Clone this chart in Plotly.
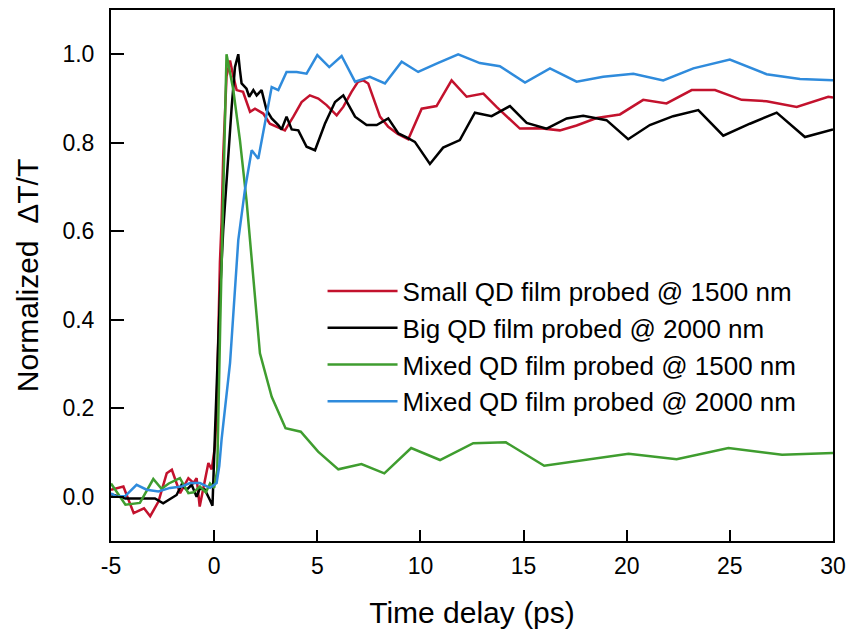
import plotly.graph_objects as go

# ---------------- data ----------------
series_names = [
    "Small QD film probed @ 1500 nm",
    "Big QD film probed @ 2000 nm",
    "Mixed QD film probed @ 1500 nm",
    "Mixed QD film probed @ 2000 nm",
]
series_colors = ["#c3122d", "#000000", "#3f9d2f", "#2f8bdc"]

small_t = [-5.0, -4.4, -3.9, -3.4, -3.1, -2.7, -2.3, -2.05, -1.65, -1.25, -1.0, -0.85, -0.7, -0.5,
           -0.28, -0.12, 0.04, 0.12, 0.2, 0.28, 0.36, 0.44, 0.6, 0.77, 0.93, 1.09, 1.4, 1.74, 1.98,
           2.38, 2.7, 3.19, 3.43, 3.84, 4.24, 4.64, 5.05, 5.45, 5.94, 6.26, 6.66, 6.98, 7.23, 7.47,
           7.71, 8.04, 8.44, 8.9, 9.41, 10.06, 10.78, 11.51, 12.24, 13.05, 13.69, 14.18, 14.82,
           15.79, 16.76, 17.57, 18.54, 19.67, 20.8, 21.93, 23.15, 24.28, 25.57, 26.78, 28.24,
           29.77, 30.0]
small_v = [0.016, 0.023, -0.037, -0.026, -0.044, -0.011, 0.053, 0.061, 0.008, 0.042, 0.031, 0.042,
           -0.022, 0.023, 0.076, 0.062, 0.114, 0.19, 0.38, 0.53, 0.62, 0.77, 0.95, 0.986, 0.95,
           0.919, 0.915, 0.87, 0.877, 0.866, 0.843, 0.832, 0.828, 0.859, 0.892, 0.907, 0.900,
           0.885, 0.862, 0.881, 0.915, 0.938, 0.941, 0.934, 0.904, 0.859, 0.836, 0.82, 0.808,
           0.877, 0.883, 0.941, 0.904, 0.911, 0.881, 0.859, 0.832, 0.833, 0.828, 0.839, 0.856,
           0.864, 0.897, 0.889, 0.919, 0.919, 0.897, 0.894, 0.881, 0.904, 0.902]

big_t = [-5.0, -4.3, -3.4, -2.87, -2.47, -2.06, -1.82, -1.58, -1.33, -1.09, -0.85, -0.69, -0.45,
         -0.2, -0.08, 0.04, 0.12, 0.28, 0.44, 0.52, 0.6, 0.85, 1.01, 1.17, 1.25, 1.33, 1.57, 1.7,
         1.9, 2.06, 2.3, 2.54, 2.79, 3.11, 3.27, 3.51, 3.76, 4.08, 4.48, 4.89, 5.37, 5.86, 6.26,
         6.83, 7.39, 7.88, 8.44, 8.93, 9.33, 9.73, 10.46, 11.1, 11.91, 12.64, 13.45, 14.34, 15.15,
         16.12, 17.09, 17.89, 19.02, 20.07, 21.12, 22.25, 23.47, 24.68, 25.97, 27.27, 28.64, 30.0]
big_v = [0.006, -0.004, -0.004, -0.004, -0.015, -0.004, 0.004, 0.027, 0.016, 0.027, 0.0, 0.019,
         0.016, -0.008, -0.02, 0.144, 0.264, 0.452, 0.603, 0.655, 0.73, 0.881, 0.971, 1.0, 0.964,
         0.934, 0.922, 0.904, 0.919, 0.907, 0.919, 0.874, 0.855, 0.84, 0.83, 0.859, 0.83, 0.828,
         0.791, 0.783, 0.843, 0.892, 0.907, 0.859, 0.84, 0.84, 0.855, 0.821, 0.812, 0.802, 0.752,
         0.789, 0.806, 0.868, 0.86, 0.883, 0.845, 0.832, 0.855, 0.861, 0.851, 0.808, 0.84, 0.86,
         0.874, 0.816, 0.843, 0.868, 0.813, 0.83]

mix1500_t = [-5.0, -4.3, -3.6, -2.95, -2.55, -2.2, -1.66, -1.25, -1.0, -0.69, -0.4, -0.2, 0.0,
             0.15, 0.3, 0.45, 0.6, 0.93, 1.25, 1.57, 1.74, 1.98, 2.22, 2.79, 3.46, 4.2, 5.04,
             6.02, 7.14, 8.25, 9.55, 10.95, 12.56, 14.14, 16.0, 20.09, 22.42, 24.93, 27.53, 30.0]
mix1500_v = [0.03, -0.018, -0.014, 0.04, 0.018, 0.03, 0.042, 0.008, 0.01, 0.023, 0.01, 0.03, 0.02,
             0.06, 0.4, 0.72, 1.0, 0.919, 0.806, 0.67, 0.58, 0.452, 0.324, 0.226, 0.155, 0.147,
             0.102, 0.062, 0.074, 0.053, 0.11, 0.083, 0.121, 0.123, 0.07, 0.097, 0.085, 0.11,
             0.095, 0.099]

mix2000_t = [-5.0, -4.73, -4.3, -3.76, -3.27, -2.7, -2.14, -1.58, -1.17, -0.69, -0.2, 0.12, 0.25,
             0.36, 0.77, 0.93, 1.17, 1.49, 1.82, 2.14, 2.46, 2.79, 3.11, 3.51, 4.0, 4.48, 5.0,
             5.58, 6.18, 6.83, 7.55, 8.28, 9.09, 9.89, 10.78, 11.83, 12.88, 13.85, 15.07, 16.28,
             17.57, 18.86, 20.32, 21.77, 23.23, 25.0, 26.78, 28.4, 30.0]
mix2000_v = [0.008, 0.0, 0.002, 0.027, 0.016, 0.012, 0.02, 0.023, 0.031, 0.031, 0.02, 0.031, 0.07,
             0.129, 0.302, 0.415, 0.58, 0.693, 0.783, 0.764, 0.843, 0.926, 0.919, 0.96, 0.96,
             0.956, 0.998, 0.971, 0.996, 0.938, 0.949, 0.934, 0.983, 0.96, 0.979, 1.0, 0.98,
             0.973, 0.936, 0.968, 0.938, 0.949, 0.956, 0.941, 0.968, 0.988, 0.955, 0.944, 0.941]

x_ticks = [-5, 0, 5, 10, 15, 20, 25, 30]
x_tick_labels = ["-5", "0", "5", "10", "15", "20", "25", "30"]
y_ticks = [0.0, 0.2, 0.4, 0.6, 0.8, 1.0]
y_tick_labels = ["0.0", "0.2", "0.4", "0.6", "0.8", "1.0"]
x_range = [-5, 30]
y_range = [-0.1, 1.1]

# ---------------- figure ----------------
FONT = "Liberation Sans, Arial, Helvetica, sans-serif"
fig = go.Figure()
all_t = [small_t, big_t, mix1500_t, mix2000_t]
all_v = [small_v, big_v, mix1500_v, mix2000_v]
for name, color, t, v in zip(series_names, series_colors, all_t, all_v):
    fig.add_trace(go.Scatter(x=t, y=v, mode="lines", name=name,
                             line=dict(color=color, width=2.5)))

axis_common = dict(showline=True, linecolor="black", linewidth=2, mirror=True,
                   ticks="inside", tickcolor="black", tickwidth=2, showgrid=False,
                   zeroline=False, tickfont=dict(family=FONT, size=23, color="black"))
fig.update_xaxes(range=x_range, tickvals=x_ticks, ticktext=x_tick_labels, ticklen=11,
                 ticklabelstandoff=3,
                 title=dict(text="Time delay (ps)", font=dict(family=FONT, size=30, color="black"),
                            standoff=24),
                 **axis_common)
fig.update_yaxes(range=y_range, tickvals=y_ticks, ticktext=y_tick_labels, ticklen=13,
                 ticklabelstandoff=10,
                 title=dict(text="Normalized&nbsp;&nbsp;ΔT/T",
                            font=dict(family=FONT, size=30, color="black"), standoff=15),
                 **axis_common)
fig.update_layout(
    width=849, height=634,
    margin=dict(l=111, r=16, t=10, b=93, autoexpand=False),
    paper_bgcolor="white", plot_bgcolor="white",
    font=dict(family=FONT, color="black"),
    legend=dict(x=0.293, y=0.515, xanchor="left", yanchor="top", bgcolor="rgba(0,0,0,0)",
                font=dict(family=FONT, size=26, color="black"), itemwidth=70,
                tracegroupgap=0),
    showlegend=True,
)
fig.write_html("out.html", config={"displayModeBar": False},
               post_script="document.body.style.margin='0';")
